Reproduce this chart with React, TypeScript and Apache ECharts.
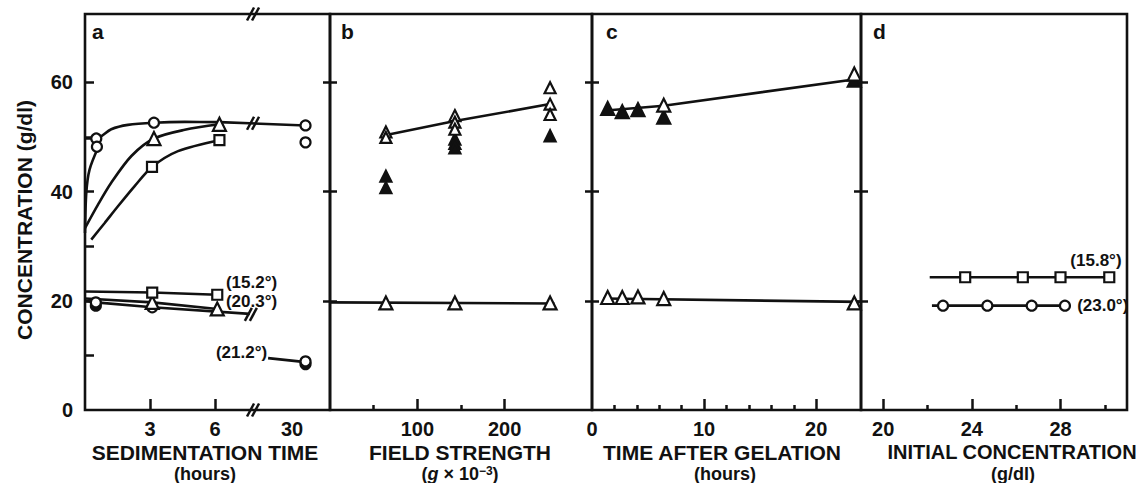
import React, { useEffect, useRef } from 'react';
import * as echarts from 'echarts';

const FONT = '"Liberation Sans", Arial, Helvetica, sans-serif';
const INK = '#111';

// ---------- shared y axis ----------
const Y_MAX = 72.5;
const yLabelValues = [0, 20, 40, 60];
const yTicksA = [10, 20, 30, 40, 50, 60];
const yCrossTicks = [20, 40, 60];

// ---------- panel a: sedimentation time (hours), broken axis ----------
const BREAK_H = 7.75;
const LATE_REF_H = 30;
const LATE_REF_POS = 9.55;
const LATE_SCALE = 0.23;
const hx = (h: number) => (h <= BREAK_H ? h : LATE_REF_POS + (h - LATE_REF_H) * LATE_SCALE);
const aXMax = 11.3;
const aTickHours = [3, 6];
const aLabelHours = [3, 6, 30];

const aCircleSteepCurve = [[0, 32.4], [0.06, 39.8], [0.21, 44.0], [0.6, 48.0]];
const aCircleUpperCurve = [[0, 49.7], [0.5, 49.7], [1.21, 51.4], [1.98, 52.2], [3.18, 52.6], [4.6, 52.75], [6.2, 52.7]];
const aCircleUpperTail = [[6.2, 52.7], [32.7, 52.1]];
const aTriangleCurve = [[0, 33.3], [0.6, 37.6], [1.21, 41.6], [2.14, 46.5], [3.18, 49.7], [4.6, 51.3], [6.2, 52.3]];
const aSquareCurve = [[0.29, 31.2], [0.9, 34.2], [1.52, 37.3], [2.29, 41.0], [3.09, 44.5], [4.29, 47.4], [6.2, 49.4]];
const aSquareLow = [[0, 21.7], [3.1, 21.5], [6.1, 21.1]];
const aTriangleLow = [[0, 20.4], [3.1, 19.7], [6.1, 18.5]];
const aCircleLow = [[0, 20.0], [0.5, 19.7], [3.1, 18.8], [7.6, 17.6]];
const a212Pointer = [[25.2, 9.5], [31.8, 8.85]];

const aOpenCircles = [[0.52, 49.7], [0.55, 48.2], [3.18, 52.6], [32.7, 52.1], [32.7, 49.0], [0.5, 19.7], [3.1, 18.8], [32.7, 8.9]];
const aFilledCircles = [[0.5, 19.1], [32.7, 8.4]];
const aOpenTriangles = [[3.18, 49.7], [6.2, 52.3], [3.1, 19.7], [6.1, 18.5]];
const aOpenSquares = [[3.09, 44.5], [6.2, 49.4], [3.1, 21.5], [6.1, 21.1]];
// break marks in display units of panel a
const aBreakMarks = [[BREAK_H, Y_MAX], [BREAK_H, 0], [BREAK_H, 52.5], [7.65, 17.5]];

// ---------- panel b: field strength (g x 10^-3) ----------
const bTicks = [100, 200];
const bMinorTicks = [50, 150];
const bUpperLine = [[63, 50.3], [143, 52.9], [255, 56.1]];
const bLowerLine = [[0, 19.7], [257, 19.5]];
const bOpenTrianglesUpper = [[64, 50.9], [64, 49.9], [143, 53.9], [143, 52.7], [143, 51.4], [252, 59.0], [252, 56.0], [252, 54.1]];
const bFilledTriangles = [[64, 42.8], [64, 40.7], [143, 49.6], [143, 48.8], [143, 48.0], [252, 50.2]];
const bOpenTrianglesLower = [[64, 19.6], [143, 19.6], [252, 19.6]];

// ---------- panel c: time after gelation (hours) ----------
const cTicks = [10, 20];
const cLabels = [0, 10, 20];
const cMinorTicks = [2, 4, 6, 8, 12, 14, 16, 18];
const cUpperLine = [[1.0, 54.8], [6.4, 55.7], [24, 60.7]];
const cLowerLine = [[1.0, 20.4], [24, 19.8]];
const cFilledTriangles = [[1.4, 55.2], [2.7, 54.6], [4.1, 55.0], [6.4, 53.6], [23.4, 60.4]];
const cOpenTrianglesUpper = [[6.4, 55.8], [23.4, 61.5]];
const cOpenTrianglesLower = [[1.4, 20.6], [2.7, 20.6], [4.1, 20.7], [6.4, 20.4], [23.4, 19.6]];

// ---------- panel d: initial concentration (g/dl) ----------
const dTicks = [20, 24, 28];
const dMinorTicks = [22, 26, 30];
const dSquareLine = [[22.1, 24.3], [30.3, 24.3]];
const dSquares = [[23.7, 24.3], [26.3, 24.3], [28.0, 24.3], [30.2, 24.3]];
const dCircleLine = [[22.2, 19.1], [28.3, 19.1]];
const dCircles = [[22.7, 19.1], [24.7, 19.1], [26.7, 19.1], [28.2, 19.1]];

// ---------- annotations (temperatures) ----------
const annotations = [
  { g: 0, at: [6.5, 23.3], text: '(15.2°)', align: 'left' },
  { g: 0, at: [6.5, 19.8], text: '(20.3°)', align: 'left' },
  { g: 0, at: [25.0, 10.5], text: '(21.2°)', align: 'right' },
  { g: 3, at: [29.6, 27.3], text: '(15.8°)', align: 'center' },
  { g: 3, at: [28.75, 19.1], text: '(23.0°)', align: 'left' },
];

const grids = [
  { left: 85, top: 14, width: 245, height: 396 },
  { left: 330, top: 14, width: 262, height: 396 },
  { left: 592, top: 14, width: 269, height: 396 },
  { left: 861, top: 14, width: 266, height: 396 },
];
const XI = [0, 1, 3, 5];
const YI = [0, 1, 3, 5];
const id = (v: number) => v;
const toX = [hx, id, id, id];

const tickFont = { color: INK, fontSize: 20, fontWeight: 'bold' as const, fontFamily: FONT };

function conv(g: number, data: number[][]) {
  return data.map(([x, y]) => [toX[g](x), y]);
}
function curve(g: number, data: number[][], smooth = false) {
  return {
    type: 'line', xAxisIndex: XI[g], yAxisIndex: YI[g], data: conv(g, data), symbol: 'none',
    smooth: smooth ? 0.3 : false, clip: false, silent: true, z: 3,
    lineStyle: { color: INK, width: 2.6 },
  };
}
function marks(g: number, data: number[][], symbol: string, filled: boolean, size: number) {
  return {
    type: 'scatter', xAxisIndex: XI[g], yAxisIndex: YI[g], data: conv(g, data), symbol,
    symbolSize: size, clip: false, silent: true, z: 5,
    itemStyle: { color: filled ? INK : '#fff', borderColor: INK, borderWidth: 2.2, opacity: 1 },
  };
}

function xMain(g: number, min: number, max: number, ticks: number[], labels: number[], fmt?: (v: number) => string) {
  return {
    type: 'value', gridIndex: g, min, max, position: 'bottom',
    axisLine: { show: false }, splitLine: { show: false },
    axisTick: { show: true, inside: true, length: 11, customValues: ticks, lineStyle: { color: INK, width: 2.5 } },
    axisLabel: { show: true, customValues: labels, margin: 12, lineHeight: 14, ...tickFont, formatter: fmt || ((v: number) => String(v)) },
  };
}
function xMinor(g: number, min: number, max: number, ticks: number[]) {
  return {
    type: 'value', gridIndex: g, min, max, position: 'bottom',
    axisLine: { show: false }, splitLine: { show: false }, axisLabel: { show: false },
    axisTick: { show: true, inside: true, length: 5, customValues: ticks, lineStyle: { color: INK, width: 2.5 } },
  };
}
function yCross(g: number, inside: boolean) {
  return {
    type: 'value', gridIndex: g, min: 0, max: Y_MAX, position: 'left',
    axisLine: { show: false }, splitLine: { show: false }, axisLabel: { show: false },
    axisTick: { show: true, inside, length: 7, customValues: yCrossTicks, lineStyle: { color: INK, width: 2.5 } },
  };
}

export default function App() {
  const ref = useRef<HTMLDivElement>(null);
  useEffect(() => {
    if (!ref.current) return;
    const chart = echarts.init(ref.current, null, { renderer: 'svg' });
    const aLabelPos = aLabelHours.map(hx);
    const option: any = {
      animation: false,
      backgroundColor: '#fff',
      grid: grids.map((g) => ({ ...g, show: true, borderColor: INK, borderWidth: 2.6, backgroundColor: 'transparent' })),
      xAxis: [
        xMain(0, 0, aXMax, aTickHours.map(hx), aLabelPos, (v: number) => {
          let best = 0;
          aLabelPos.forEach((p, i) => { if (Math.abs(p - v) < Math.abs(aLabelPos[best] - v)) best = i; });
          return String(aLabelHours[best]);
        }),
        xMain(1, 0, 300, bTicks, bTicks),
        xMinor(1, 0, 300, bMinorTicks),
        xMain(2, 0, 24, cTicks, cLabels),
        xMinor(2, 0, 24, cMinorTicks),
        xMain(3, 19, 31, dTicks, dTicks),
        xMinor(3, 19, 31, dMinorTicks),
      ],
      yAxis: [
        {
          type: 'value', gridIndex: 0, min: 0, max: Y_MAX, position: 'left',
          axisLine: { show: false }, splitLine: { show: false },
          axisTick: { show: true, inside: true, length: 9, customValues: yTicksA, lineStyle: { color: INK, width: 2.5 } },
          axisLabel: { show: true, customValues: yLabelValues, margin: 12, ...tickFont },
        },
        yCross(1, false), yCross(1, true),
        yCross(2, false), yCross(2, true),
        yCross(3, false), yCross(3, true),
      ],
      series: [
        // panel a
        curve(0, aCircleSteepCurve, true),
        curve(0, aCircleUpperCurve, true),
        curve(0, aCircleUpperTail),
        curve(0, aTriangleCurve, true),
        curve(0, aSquareCurve, true),
        curve(0, aSquareLow),
        curve(0, aTriangleLow),
        curve(0, aCircleLow),
        curve(0, a212Pointer),
        marks(0, aFilledCircles, 'circle', true, 10),
        marks(0, aOpenCircles, 'circle', false, 10),
        marks(0, aOpenTriangles, 'triangle', false, 13),
        marks(0, aOpenSquares, 'rect', false, 10),
        // panel b
        curve(1, bUpperLine),
        curve(1, bLowerLine),
        marks(1, bFilledTriangles, 'triangle', true, 11),
        marks(1, bOpenTrianglesUpper, 'triangle', false, 11),
        marks(1, bOpenTrianglesLower, 'triangle', false, 13),
        // panel c
        curve(2, cUpperLine),
        curve(2, cLowerLine),
        marks(2, cFilledTriangles, 'triangle', true, 13),
        marks(2, cOpenTrianglesUpper, 'triangle', false, 13),
        marks(2, cOpenTrianglesLower, 'triangle', false, 13),
        // panel d
        curve(3, dSquareLine),
        curve(3, dCircleLine),
        marks(3, dSquares, 'rect', false, 10),
        marks(3, dCircles, 'circle', false, 10),
      ],
    };
    chart.setOption(option);

    const graphics: any[] = [];
    // break marks
    aBreakMarks.forEach((p) => {
      const [cx, cy] = chart.convertToPixel({ xAxisIndex: 0, yAxisIndex: 0 }, p) as number[];
      [-2.5, 2.5].forEach((off) => {
        graphics.push({
          type: 'line', z: 20, silent: true,
          shape: { x1: cx + off - 3.5, y1: cy + 6.5, x2: cx + off + 3.5, y2: cy - 6.5 },
          style: { stroke: INK, lineWidth: 2.5 },
        });
      });
    });
    const txt = (x: number, y: number, text: string, size: number, extra: any = {}) => ({
      type: 'text', x, y, silent: true, z: 20,
      style: { text, fill: INK, fontSize: size, fontWeight: 'bold', fontFamily: FONT, align: 'center', verticalAlign: 'middle', ...extra },
    });
    // temperature annotations, placed through the axes
    annotations.forEach((a) => {
      const [px, py] = chart.convertToPixel({ xAxisIndex: XI[a.g], yAxisIndex: YI[a.g] }, [toX[a.g](a.at[0]), a.at[1]]) as number[];
      graphics.push(txt(px, py, a.text, 17, { align: a.align }));
    });
    // panel letters
    graphics.push(txt(92, 31, 'a', 21, { align: 'left' }));
    graphics.push(txt(341, 31, 'b', 21, { align: 'left' }));
    graphics.push(txt(606, 31, 'c', 21, { align: 'left' }));
    graphics.push(txt(873, 31, 'd', 21, { align: 'left' }));
    // axis titles
    graphics.push(txt(205, 452, 'SEDIMENTATION TIME', 21));
    graphics.push(txt(205, 473.5, '(hours)', 18));
    graphics.push(txt(460, 452, 'FIELD STRENGTH', 21));
    graphics.push(txt(460, 473.5, '{p|(}{i|g}{p| × 10}{s|−3}{p|)}', 18, {
      rich: {
        p: { fontSize: 18, fontWeight: 'bold', fontFamily: FONT, fill: INK },
        i: { fontSize: 18, fontWeight: 'bold', fontStyle: 'italic', fontFamily: FONT, fill: INK },
        s: { fontSize: 12, fontWeight: 'bold', fontFamily: FONT, fill: INK, verticalAlign: 'top' },
      },
    }));
    graphics.push(txt(722, 452, 'TIME AFTER GELATION', 21));
    graphics.push(txt(725, 473.5, '(hours)', 18));
    graphics.push(txt(1012, 452, 'INITIAL CONCENTRATION', 20));
    graphics.push(txt(1013, 473.5, '(g/dl)', 18));
    // y title
    graphics.push({
      type: 'text', x: 24, y: 220, rotation: Math.PI / 2, silent: true, z: 20,
      style: { text: 'CONCENTRATION (g/dl)', fill: INK, fontSize: 21, fontWeight: 'bold', fontFamily: FONT, align: 'center', verticalAlign: 'middle' },
    });
    chart.setOption({ graphic: graphics });

    return () => chart.dispose();
  }, []);
  return <div ref={ref} style={{ position: 'absolute', left: 0, top: 0, width: 1146, height: 483, background: '#fff' }} />;
}
